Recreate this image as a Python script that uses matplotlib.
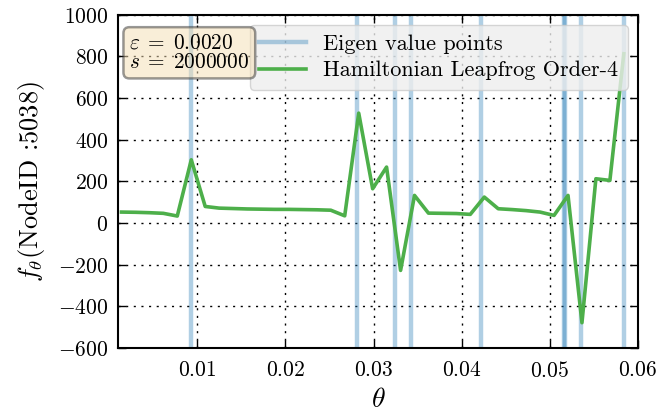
import matplotlib
matplotlib.use('Agg')
import matplotlib.pyplot as plt

plt.rcParams['font.family'] = 'cmr10'
plt.rcParams['mathtext.fontset'] = 'cm'
plt.rcParams['axes.formatter.use_mathtext'] = True

# eigen value positions (vertical lines)
EIGEN = [0.00932, 0.02815, 0.03238, 0.03427, 0.04215, 0.05160, 0.05175, 0.05354, 0.05845]

# sampled theta and f_theta values
THETA = [0.00140, 0.00298, 0.00457, 0.00615, 0.00773, 0.00932, 0.01090, 0.01248,
         0.01407, 0.01565, 0.01723, 0.01882, 0.02040, 0.02198, 0.02357, 0.02515,
         0.02673, 0.02832, 0.02990, 0.03148, 0.03307, 0.03465, 0.03623, 0.03782,
         0.03940, 0.04098, 0.04257, 0.04415, 0.04573, 0.04732, 0.04890, 0.05048,
         0.05207, 0.05365, 0.05523, 0.05682, 0.05840]
F = [53, 52, 50, 47, 34, 304, 80, 72,
     70, 68, 67, 66, 66, 65, 64, 62,
     35, 528, 165, 269, -227, 133, 48, 47,
     46, 42, 125, 69, 65, 60, 53, 37,
     133, -478, 213, 205, 813]

fig = plt.figure(figsize=(6.59, 4.11), dpi=100)
ax = fig.add_axes([0.179, 0.153, 0.789, 0.811])

for i, e in enumerate(EIGEN):
    ax.axvline(e, color='#1f77b4', alpha=0.35, linewidth=3.2,
               label='Eigen value points' if i == 0 else None)
ax.plot(THETA, F, color='#4daf4a', linewidth=2.6, label='Hamiltonian Leapfrog Order-4')

ax.set_xlim(0.001, 0.06)
ax.set_ylim(-600, 1000)
ax.set_xticks([0.01, 0.02, 0.03, 0.04, 0.05, 0.06])
ax.set_yticks(range(-600, 1001, 200))
ax.grid(True, color='black', linestyle=(0, (1.5, 4)), linewidth=1)
ax.tick_params(direction='in', top=True, right=True, length=6, width=1, labelsize=15.5)
ax.tick_params(axis='x', pad=9)
ax.tick_params(axis='y', pad=7)
for s in ax.spines.values():
    s.set_linewidth(1.5)

ax.set_xlabel(r'$\theta$', fontsize=20, labelpad=4)
ax.set_ylabel(r'$f_{\theta}$(NodeID :5038)', fontsize=19, labelpad=8)

leg = ax.legend(loc='upper right', fontsize=16, fancybox=True, framealpha=0.8,
                facecolor='#eeeeee', edgecolor='#cccccc', handlelength=2.1,
                labelspacing=0.32, borderpad=0.42, borderaxespad=0.45)
leg.set_zorder(4)

ax.text(0.022, 0.945, '$\\varepsilon\\;=\\;0.0020$\n$s\\;=\\;2000000$', transform=ax.transAxes,
        fontsize=15.3, va='top', ha='left', linespacing=1.02,
        bbox=dict(boxstyle='round,pad=0.28', facecolor='wheat', edgecolor='#333333',
                  linewidth=1.8, alpha=0.5), zorder=6)

fig.savefig('out.png', dpi=100)
